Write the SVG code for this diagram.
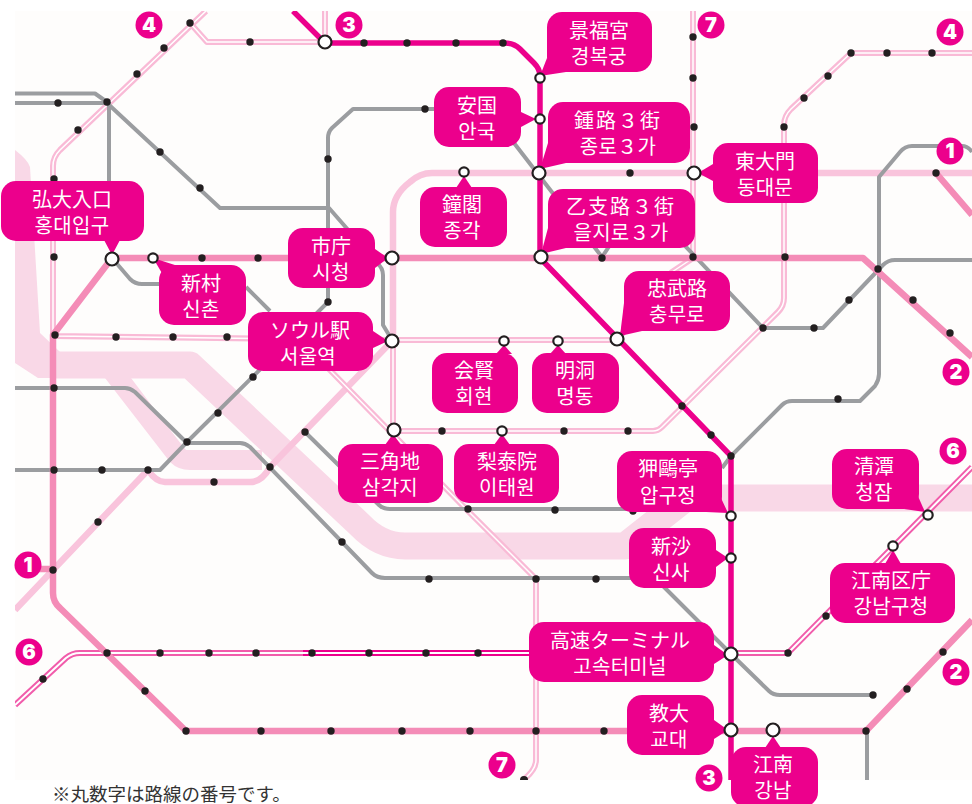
<svg xmlns="http://www.w3.org/2000/svg" width="972" height="804" viewBox="0 0 972 804">
<style>
text{font-family:"Noto Sans CJK JP","Noto Sans CJK KR",sans-serif}
.t{font-size:20px;fill:#fff;text-anchor:middle}
.k{font-family:"Noto Sans CJK KR","Noto Sans CJK JP",sans-serif;letter-spacing:.3px}
.n{font-family:Inter,"Liberation Sans",sans-serif;font-weight:900;font-size:20px;fill:#fff;text-anchor:middle}
.b{fill:#ec008c}
.l{fill:none;stroke-linejoin:round;stroke-linecap:butt}
.river{stroke:#f9d8e7;stroke-width:27}
.rf{fill:#f9d8e7}
.gray{stroke:#9b9da0;stroke-width:4}
.pale{stroke:#f9c4dc;stroke-width:6.5}
.mid{stroke:#f48cb7;stroke-width:6.5}
.strong{stroke:#ec008c;stroke-width:5.5}
.do{stroke:#f9bad6;stroke-width:6}
.di{stroke:#fff;stroke-width:1.5}
.m6a{stroke:#f15cab;stroke-width:6}
.m6b{stroke:#ec008c;stroke-width:6}
.m6i{stroke:#fff;stroke-width:2}
.s{fill:#fff;stroke:#231f20;stroke-width:2.2}
.d{fill:#231f20}
</style>
<defs>
<clipPath id="map"><rect x="15" y="11" width="957" height="769"/></clipPath>
<path id="p4" d="M206,11 L60,150 Q53,157 53,166 L53,336 L392,340 L617,340 M393,341 L393,431 L653,431 Q658,431 662,427 L778,312 Q784,306 784,298 L784,125 Q784,116 791,109 L851,53 L972,53"/>
<path id="p4b" d="M190,23 L207,42 L325,42 L325,11"/>
<path id="p7" d="M693,11 L693,258 L672,272 L618,339 M325,365 L467,510 L536,579 L536,760 Q536,770 523,780"/>
<path id="p6a" d="M15,705 L66,658 Q72,653 80,653 L303,653"/>
<path id="p6b" d="M303,653 L531,653"/>
<path id="p6c" d="M731,653 L788,653 L972,467"/>
</defs>
<rect x="15" y="11" width="957" height="769" fill="#fefdfc"/>
<g id="connectors" clip-path="url(#map)">
<path class="rf" d="M15,150 Q28,160 30,167 L40,333 L60,352 L60,378 L38,378 L15,363Z"/>
<path class="l river" d="M50,365 L190,365 L360,525 Q380,546 405,546 L625,546 L686,498 L972,498"/>
<path class="rf" d="M105,378 L131,378 L178,440 L186,450 L262,450 L262,470 L190,470 Q178,470 170,462Z"/>
<path class="l pale" d="M972,173 L432,173 Q420,173 410,182 Q393,195 393,212 L393,340 L270,467 Q262,482 250,482 L165,482 Q156,482 148,470 L15,610"/>
<use href="#p4" class="l do"/><use href="#p4" class="l di"/>
<use href="#p4b" class="l do"/><use href="#p4b" class="l di"/>
<use href="#p7" class="l do"/><use href="#p7" class="l di"/>
<path class="l gray" d="M15,93.500 L95,93.500 L107,102 M15,103 L107,103 L220,208 L329,208 L377,263 Q383,268 383,275 L383,325 L392,340"/>
<path class="l gray" d="M109,102 L109,200 M112,258 L130,279 Q135,284 142,284 L170,284 M246,287 L270,311"/>
<path class="l gray" d="M440,109 L353,109 L332,128 Q328,132 328,138 L328,302 L187,442 L160,470 L15,470"/>
<path class="l gray" d="M15,388 L125,388 Q130,388 135,392 L187,443 L240,443 Q245,443 250,447 L372,573 Q377,578 385,578 L655,578 L731,654 L769,691 Q773,695 780,695 L873,695"/>
<path class="l gray" d="M305,432 L379,505 Q383,509 390,509 L640,509 M722,468 L731,456 L782,405 Q786,401 792,401 L860,401 L875,386 Q879,380 879,374 L879,177 L900,152 Q905,146 912,146 L962,146 Q968,146 972,152"/>
<path class="l gray" d="M514,143 L602,257 L620,230 L670,230 L763,328 L823,328 L883,265 Q888,260 895,260 L972,260"/>
<path class="l gray" d="M867,731 L867,780"/>
<use href="#p6a" class="l m6a"/><use href="#p6a" class="l m6i"/>
<use href="#p6b" class="l m6b"/><use href="#p6b" class="l m6i"/>
<use href="#p6c" class="l m6a"/><use href="#p6c" class="l m6i"/>
<path class="l mid" d="M112,258 L863,258 L972,357 M112,258 L53,335 L53,593 Q53,602 60,608 L186,731 L866,731 L972,620 M53,569 L30,569 M936,173 L972,215"/>
<path class="l strong" d="M293,11 L325,43 L505,43 Q514,43 520,49 L534,63 Q540,69 540,76 L540,258 L731,456 L731,780"/>
</g>
<g id="stops">
<circle class="d" cx="190" cy="23" r="3.700"/><circle class="d" cx="164" cy="48" r="3.700"/><circle class="d" cx="137" cy="74" r="3.700"/><circle class="d" cx="107" cy="102" r="3.700"/><circle class="d" cx="78" cy="130" r="3.700"/><circle class="d" cx="58" cy="103" r="3.700"/><circle class="d" cx="54" cy="179" r="3.700"/><circle class="d" cx="54" cy="257" r="3.700"/><circle class="d" cx="250" cy="42" r="3.700"/><circle class="d" cx="364" cy="43" r="3.700"/><circle class="d" cx="407" cy="43" r="3.700"/><circle class="d" cx="456" cy="43" r="3.700"/><circle class="d" cx="425" cy="109" r="3.700"/><circle class="d" cx="328" cy="159" r="3.700"/><circle class="d" cx="160" cy="152" r="3.700"/><circle class="d" cx="200" cy="188" r="3.700"/><circle class="d" cx="202" cy="258" r="3.700"/><circle class="d" cx="258" cy="258" r="3.700"/><circle class="d" cx="328" cy="302" r="3.700"/><circle class="d" cx="55" cy="335" r="3.700"/><circle class="d" cx="116" cy="337" r="3.700"/><circle class="d" cx="173" cy="337" r="3.700"/><circle class="d" cx="227" cy="337" r="3.700"/><circle class="d" cx="253" cy="377" r="3.700"/><circle class="d" cx="54" cy="388" r="3.700"/>
<circle class="d" cx="503" cy="43" r="3.700"/><circle class="d" cx="693" cy="37" r="3.700"/><circle class="d" cx="693" cy="78" r="3.700"/><circle class="d" cx="694" cy="127" r="3.700"/><circle class="d" cx="630" cy="173" r="3.700"/><circle class="d" cx="602" cy="258" r="3.700"/><circle class="d" cx="693" cy="257" r="3.700"/><circle class="d" cx="785" cy="257" r="3.700"/><circle class="d" cx="784" cy="127" r="3.700"/><circle class="d" cx="804" cy="98" r="3.700"/><circle class="d" cx="828" cy="76" r="3.700"/><circle class="d" cx="851" cy="53" r="3.700"/><circle class="d" cx="887" cy="53" r="3.700"/><circle class="d" cx="932" cy="53" r="3.700"/><circle class="d" cx="936" cy="173" r="3.700"/><circle class="d" cx="878" cy="269" r="3.700"/><circle class="d" cx="849" cy="300" r="3.700"/><circle class="d" cx="814" cy="328" r="3.700"/><circle class="d" cx="763" cy="328" r="3.700"/><circle class="d" cx="913" cy="300" r="3.700"/><circle class="d" cx="950" cy="333" r="3.700"/><circle class="d" cx="838" cy="399" r="3.700"/>
<circle class="d" cx="218" cy="413" r="3.700"/><circle class="d" cx="187" cy="442" r="3.700"/><circle class="d" cx="54" cy="470" r="3.700"/><circle class="d" cx="102" cy="470" r="3.700"/><circle class="d" cx="148" cy="470" r="3.700"/><circle class="d" cx="214" cy="482" r="3.700"/><circle class="d" cx="270" cy="467" r="3.700"/><circle class="d" cx="305" cy="432" r="3.700"/><circle class="d" cx="442" cy="431" r="3.700"/><circle class="d" cx="98" cy="522" r="3.700"/><circle class="d" cx="53" cy="570" r="3.700"/><circle class="d" cx="342" cy="542" r="3.700"/><circle class="d" cx="429" cy="579" r="3.700"/><circle class="d" cx="468" cy="509" r="3.700"/><circle class="d" cx="43" cy="679" r="3.700"/><circle class="d" cx="107" cy="653" r="3.700"/><circle class="d" cx="160" cy="653" r="3.700"/><circle class="d" cx="209" cy="653" r="3.700"/><circle class="d" cx="256" cy="653" r="3.700"/><circle class="d" cx="312" cy="653" r="3.700"/><circle class="d" cx="369" cy="653" r="3.700"/><circle class="d" cx="426" cy="653" r="3.700"/><circle class="d" cx="478" cy="653" r="3.700"/><circle class="d" cx="145" cy="691" r="3.700"/><circle class="d" cx="186" cy="731" r="3.700"/><circle class="d" cx="261" cy="731" r="3.700"/><circle class="d" cx="331" cy="731" r="3.700"/><circle class="d" cx="402" cy="731" r="3.700"/><circle class="d" cx="470" cy="731" r="3.700"/>
<circle class="d" cx="564" cy="431" r="3.700"/><circle class="d" cx="628" cy="431" r="3.700"/><circle class="d" cx="682" cy="406" r="3.700"/><circle class="d" cx="711" cy="435" r="3.700"/><circle class="d" cx="731" cy="456" r="3.700"/><circle class="d" cx="555" cy="510" r="3.700"/><circle class="d" cx="633" cy="511" r="3.700"/><circle class="d" cx="536" cy="579" r="3.700"/><circle class="d" cx="596" cy="579" r="3.700"/><circle class="d" cx="536" cy="731" r="3.700"/><circle class="d" cx="604" cy="731" r="3.700"/><circle class="d" cx="788" cy="653" r="3.700"/><circle class="d" cx="826" cy="616" r="3.700"/><circle class="d" cx="873" cy="695" r="3.700"/><circle class="d" cx="866" cy="731" r="3.700"/><circle class="d" cx="907" cy="689" r="3.700"/><circle class="d" cx="943" cy="652" r="3.700"/><path class="d" d="M520,780 A3.700,3.700 0 0 1 528,780Z"/>
</g>
<g id="unlabelled-station"><circle class="s" cx="325" cy="42" r="6.500"/></g>
<g id="hongdae"><rect class="b" x="1" y="181" width="143" height="60" rx="15"/><path class="b" d="M104,240 L120,240 L112,255Z"/><circle class="s" cx="112" cy="259" r="6.500"/><text class="t" x="72" y="207">弘大入口</text><text class="t k" x="72" y="233">홍대입구</text></g>
<g id="sinchon"><rect class="b" x="159" y="265" width="87" height="60" rx="15"/><path class="b" d="M153,258 L178,266 L166,280Z"/><circle class="s" cx="153" cy="258" r="4.700"/><text class="t" x="201" y="291">新村</text><text class="t k" x="201" y="317">신촌</text></g>
<g id="cityhall"><rect class="b" x="288" y="228" width="87" height="60" rx="15"/><path class="b" d="M375,249 L375,268 L388,258Z"/><circle class="s" cx="392" cy="258" r="6.500"/><text class="t" x="331" y="254">市庁</text><text class="t k" x="331" y="280">시청</text></g>
<g id="seoulstn"><rect class="b" x="248" y="312" width="125" height="59" rx="15"/><path class="b" d="M373,331 L373,348 L388,341Z"/><circle class="s" cx="392" cy="341" r="6.500"/><text class="t" x="310" y="338">ソウル駅</text><text class="t k" x="308" y="364">서울역</text></g>
<g id="anguk"><rect class="b" x="434" y="87" width="87" height="60" rx="15"/><path class="b" d="M521,112 L521,127 L536,119Z"/><circle class="s" cx="540" cy="119" r="4.700"/><text class="t" x="477" y="113">安国</text><text class="t k" x="477" y="139">안국</text></g>
<g id="jonggak"><rect class="b" x="420" y="187" width="87" height="60" rx="15"/><path class="b" d="M456,188 L472,188 L464,176Z"/><circle class="s" cx="464" cy="172" r="4.700"/><text class="t" x="462" y="212">鐘閣</text><text class="t k" x="462" y="238">종각</text></g>
<g id="gyeongbokgung"><rect class="b" x="547" y="12" width="105" height="60" rx="15"/><path class="b" d="M547,58 L566,72 L540,76Z"/><circle class="s" cx="540" cy="78" r="4.700"/><text class="t" x="599" y="38">景福宮</text><text class="t k" x="599" y="64">경복궁</text></g>
<g id="jongno3"><rect class="b" x="548" y="102" width="142" height="61" rx="15"/><path class="b" d="M548,143 L566,163 L540,169Z"/><circle class="s" cx="539" cy="173" r="6.500"/><text class="t" x="618" y="128" letter-spacing="2">鍾路３街</text><text class="t k" x="618" y="154" letter-spacing="2">종로３가</text></g>
<g id="euljiro3"><rect class="b" x="548" y="189" width="147" height="59" rx="15"/><path class="b" d="M548,228 L566,248 L541,254Z"/><circle class="s" cx="541" cy="257" r="6.500"/><text class="t" x="621" y="214" letter-spacing="2">乙支路３街</text><text class="t k" x="621" y="240" letter-spacing="2">을지로３가</text></g>
<g id="dongdaemun"><rect class="b" x="713" y="143" width="105" height="60" rx="15"/><path class="b" d="M713,164 L713,181 L698,173Z"/><circle class="s" cx="694" cy="173" r="6.500"/><text class="t" x="765" y="169">東大門</text><text class="t k" x="765" y="195">동대문</text></g>
<g id="chungmuro"><rect class="b" x="624" y="271" width="106" height="60" rx="15"/><path class="b" d="M624,303 L642,331 L620,336Z"/><circle class="s" cx="617" cy="339" r="6.500"/><text class="t" x="677" y="296">忠武路</text><text class="t k" x="677" y="322">충무로</text></g>
<g id="hoehyeon"><rect class="b" x="432" y="353" width="86" height="60" rx="15"/><path class="b" d="M496,354 L512,354 L504,345Z"/><circle class="s" cx="504" cy="341" r="4.700"/><text class="t" x="474" y="378">会賢</text><text class="t k" x="474" y="404">회현</text></g>
<g id="myeongdong"><rect class="b" x="532" y="353" width="87" height="60" rx="15"/><path class="b" d="M550,354 L566,354 L558,345Z"/><circle class="s" cx="558" cy="341" r="4.700"/><text class="t" x="575" y="378">明洞</text><text class="t k" x="575" y="404">명동</text></g>
<g id="samgakji"><rect class="b" x="338" y="444" width="105" height="59" rx="15"/><path class="b" d="M385,445 L401,445 L393,434Z"/><circle class="s" cx="394" cy="430" r="6.500"/><text class="t" x="390" y="469">三角地</text><text class="t k" x="390" y="495">삼각지</text></g>
<g id="itaewon"><rect class="b" x="454" y="444" width="105" height="59" rx="15"/><path class="b" d="M494,445 L510,445 L502,434Z"/><circle class="s" cx="502" cy="431" r="4.700"/><text class="t" x="507" y="469">梨泰院</text><text class="t k" x="507" y="495">이태원</text></g>
<g id="apgujeong"><rect class="b" x="617" y="451" width="105" height="61" rx="15"/><path class="b" d="M721,498 L706,512 L728,513Z"/><circle class="s" cx="731" cy="516" r="4.700"/><text class="t" x="668" y="476">狎鷗亭</text><text class="t k" x="668" y="503">압구정</text></g>
<g id="sinsa"><rect class="b" x="629" y="528" width="87" height="60" rx="15"/><path class="b" d="M716,550 L716,567 L728,558Z"/><circle class="s" cx="731" cy="558" r="4.700"/><text class="t" x="671" y="554">新沙</text><text class="t k" x="671" y="580">신사</text></g>
<g id="terminal"><rect class="b" x="529" y="622" width="185" height="60" rx="15"/><path class="b" d="M714,645 L714,664 L728,655Z"/><circle class="s" cx="731" cy="654" r="6.500"/><text class="t" x="620" y="648">高速ターミナル</text><text class="t k" x="620" y="674">고속터미널</text></g>
<g id="gyodae"><rect class="b" x="627" y="695" width="87" height="60" rx="15"/><path class="b" d="M714,720 L714,739 L728,730Z"/><circle class="s" cx="731" cy="730" r="6.500"/><text class="t" x="669" y="721">教大</text><text class="t k" x="669" y="747">교대</text></g>
<g id="gangnam"><rect class="b" x="731" y="747" width="87" height="60" rx="15"/><path class="b" d="M765,748 L781,748 L773,736Z"/><circle class="s" cx="773" cy="730" r="6.500"/><text class="t" x="773" y="772">江南</text><text class="t k" x="773" y="798">강남</text></g>
<g id="cheongdam"><rect class="b" x="832" y="449" width="87" height="60" rx="15"/><path class="b" d="M917,494 L904,509 L925,512Z"/><circle class="s" cx="928" cy="515" r="4.700"/><text class="t" x="874" y="474">清潭</text><text class="t k" x="874" y="500">청잠</text></g>
<g id="gangnamgu"><rect class="b" x="830" y="563" width="125" height="60" rx="15"/><path class="b" d="M885,564 L901,564 L893,550Z"/><circle class="s" cx="893" cy="546" r="4.700"/><text class="t" x="891" y="588">江南区庁</text><text class="t k" x="891" y="614">강남구청</text></g>
<g id="badges">
<circle class="b" cx="149" cy="25" r="13.500"/><text class="n" x="149" y="32">4</text>
<circle class="b" cx="349" cy="25" r="13.500"/><text class="n" x="349" y="32">3</text>
<circle class="b" cx="711" cy="25" r="13.500"/><text class="n" x="711" y="32">7</text>
<circle class="b" cx="950" cy="32" r="13.500"/><text class="n" x="950" y="39">4</text>
<circle class="b" cx="950" cy="151" r="13.500"/><text class="n" x="950" y="158">1</text>
<circle class="b" cx="956" cy="372" r="13.500"/><text class="n" x="956" y="379">2</text>
<circle class="b" cx="953" cy="451" r="13.500"/><text class="n" x="953" y="458">6</text>
<circle class="b" cx="28" cy="565" r="13.500"/><text class="n" x="28" y="572">1</text>
<circle class="b" cx="29" cy="652" r="13.500"/><text class="n" x="29" y="659">6</text>
<circle class="b" cx="502" cy="765" r="13.500"/><text class="n" x="502" y="772">7</text>
<circle class="b" cx="709" cy="778" r="13.500"/><text class="n" x="709" y="785">3</text>
<circle class="b" cx="956" cy="672" r="13.500"/><text class="n" x="956" y="679">2</text>
</g>
<text x="52" y="801" font-size="18.500" fill="#333">※丸数字は路線の番号です。</text>
</svg>
